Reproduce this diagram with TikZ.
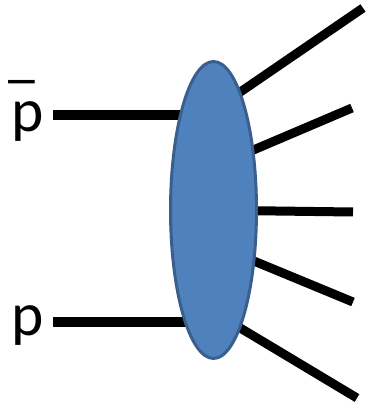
\documentclass[tikz,border=0pt]{standalone}
\usepackage{fontspec}
\setmainfont{Carlito}
\usetikzlibrary{shapes.geometric,backgrounds}
\definecolor{blobfill}{HTML}{4F81BD}
\definecolor{blobedge}{HTML}{3A5F8C}
\begin{document}
\begin{tikzpicture}[x=0.02cm, y=-0.02cm,
        leg/.style={line width=0.18cm, black},
        lbl/.style={font=\fontsize{35}{40}\selectfont, inner sep=0pt, anchor=base west}]
    \useasboundingbox (0,0) rectangle (366,408);

    % ===== Blob =====
    \node[ellipse, draw=blobedge, fill=blobfill, line width=0.06cm,
          minimum width=1.72cm, minimum height=5.94cm, inner sep=0pt] (blob) at (213.5,210) {};

    % ===== Incoming: labels and free ends =====
    \node[lbl] (pbar) at (11,132) {\rlap{\kern-0.14em\raisebox{0.2em}{\scalebox{1.6}[1]{¯}}}p};
    \node[lbl] (p) at (11,335) {p};
    \coordinate (inA) at (53,115);
    \coordinate (inB) at (53,322);

    % ===== Outgoing: free ends =====
    \coordinate (o1) at (363,8);
    \coordinate (o2) at (352,108);
    \coordinate (o3) at (353,212);
    \coordinate (o4) at (353,302);
    \coordinate (o5) at (357,398);

    \begin{scope}[on background layer]
        \draw[leg, line width=0.2cm] (inA) -- (blob.center |- inA);
        \draw[leg, line width=0.2cm] (inB) -- (blob.center |- inB);
        \foreach \a/\o in {77/o1, 56/o2, -1/o3, -51/o4, -77/o5}
            \draw[leg, shorten <=-0.3cm] (blob.\a) -- (\o);
    \end{scope}
\end{tikzpicture}
\end{document}
